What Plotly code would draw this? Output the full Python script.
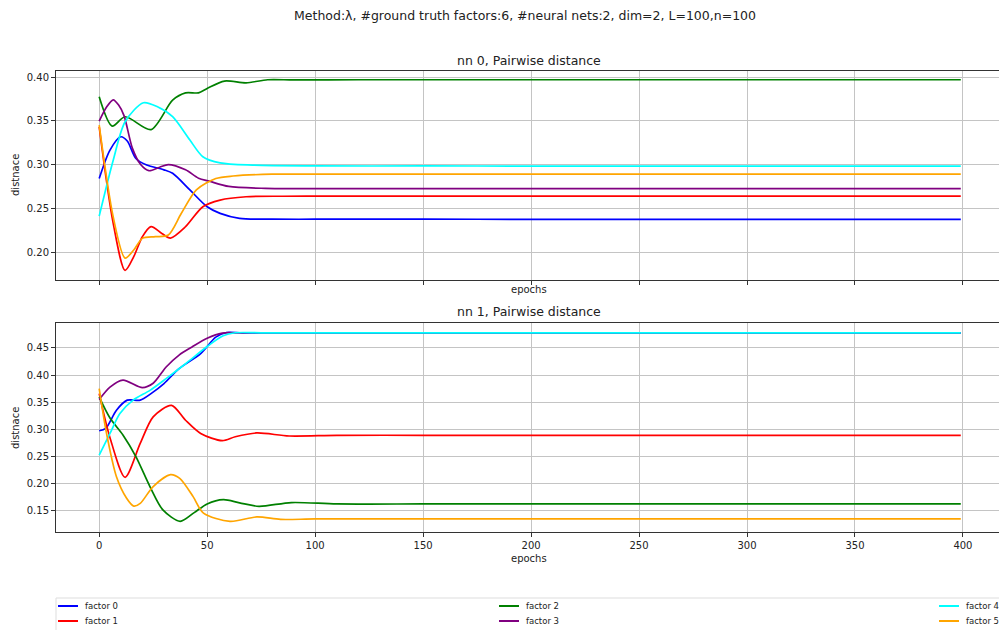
import plotly.graph_objects as go

# ---- data: pairwise distance per factor over training epochs ----
factor_names = ["factor 0", "factor 1", "factor 2", "factor 3", "factor 4", "factor 5"]
factor_colors = ["blue", "red", "green", "purple", "cyan", "orange"]

# nn 0
nn0_f0_epoch = [0, 5, 10, 13, 17, 22, 30, 34, 42, 50, 56, 65, 80, 100, 150, 200, 250, 300, 350, 399]
nn0_f0_dist = [0.284, 0.3166, 0.3318, 0.327, 0.307, 0.2994, 0.294, 0.290, 0.271, 0.2518, 0.2442, 0.2385,
               0.2376, 0.2375, 0.2375, 0.2374, 0.2374, 0.2374, 0.2374, 0.2374]
nn0_f1_epoch = [0, 6.5, 12, 16, 20, 24, 29, 33, 40, 48, 56, 68, 85, 100, 150, 200, 250, 300, 350, 399]
nn0_f1_dist = [0.343, 0.2327, 0.179, 0.1947, 0.2175, 0.229, 0.2213, 0.216, 0.229, 0.2518, 0.2594, 0.2632,
               0.2638, 0.264, 0.264, 0.264, 0.264, 0.264, 0.264, 0.264]
nn0_f2_epoch = [0, 6, 12, 24, 34, 40, 46, 50, 58, 68, 78, 90, 120, 150, 200, 250, 300, 350, 399]
nn0_f2_dist = [0.3775, 0.344, 0.3547, 0.340, 0.3737, 0.382, 0.382, 0.387, 0.3955, 0.3935, 0.397,
               0.3968, 0.397, 0.397, 0.397, 0.397, 0.397, 0.397, 0.397]
nn0_f3_epoch = [0, 3.5, 6.5, 9, 11.5, 15.4, 19.2, 23, 28, 32, 40, 46, 51, 60, 77, 100, 150, 200, 250, 300,
                350, 399]
nn0_f3_dist = [0.3497, 0.366, 0.374, 0.368, 0.356, 0.3185, 0.300, 0.293, 0.297, 0.300, 0.294, 0.2844,
               0.281, 0.275, 0.2728, 0.2725, 0.2725, 0.2725, 0.2725, 0.2725, 0.2725, 0.2725]
nn0_f4_epoch = [0, 6.5, 12, 20.5, 27, 34, 42, 48, 56, 71, 100, 150, 200, 250, 300, 350, 399]
nn0_f4_dist = [0.241, 0.305, 0.349, 0.3707, 0.366, 0.3547, 0.328, 0.309, 0.302, 0.2994, 0.2985, 0.2984,
               0.2983, 0.2983, 0.2983, 0.2983, 0.2983]
nn0_f5_epoch = [0, 6.5, 12, 16, 20, 26, 32, 38, 45, 54, 62, 80, 100, 150, 200, 250, 300, 350, 399]
nn0_f5_dist = [0.345, 0.240, 0.193, 0.2023, 0.2156, 0.2175, 0.2194, 0.244, 0.271, 0.284, 0.2869, 0.289,
               0.289, 0.289, 0.289, 0.289, 0.289, 0.289, 0.289]

# nn 1
nn1_f0_epoch = [0, 3, 8, 13, 19, 24, 30, 37, 47, 54, 59, 66, 80, 100, 150, 200, 250, 300, 350, 399]
nn1_f0_dist = [0.2976, 0.302, 0.3355, 0.354, 0.354, 0.366, 0.3845, 0.412, 0.4396, 0.470, 0.4785, 0.478,
               0.478, 0.478, 0.478, 0.478, 0.478, 0.478, 0.478, 0.478]
nn1_f1_epoch = [0, 5, 12, 19, 25, 33.5, 40, 47, 57, 63, 73, 88, 110, 150, 200, 250, 300, 350, 399]
nn1_f1_dist = [0.366, 0.285, 0.212, 0.2743, 0.3233, 0.3445, 0.317, 0.2927, 0.2794, 0.2866, 0.2936, 0.2880,
               0.2893, 0.2893, 0.2893, 0.2893, 0.2893, 0.2893, 0.2893]
nn1_f2_epoch = [0, 5, 11, 17, 23.5, 29.5, 37.5, 44, 50, 57.5, 65, 74, 89, 110, 150, 200, 250, 300, 350, 399]
nn1_f2_dist = [0.36, 0.321, 0.29, 0.25, 0.195, 0.152, 0.131, 0.147, 0.163, 0.1708, 0.165, 0.1586, 0.1655,
               0.163, 0.1629, 0.1629, 0.1629, 0.1629, 0.1629, 0.1629]
nn1_f3_epoch = [0, 5, 11, 20, 25, 31, 37, 43, 50, 57, 63, 75, 100, 150, 200, 250, 300, 350, 399]
nn1_f3_dist = [0.355, 0.378, 0.391, 0.377, 0.385, 0.415, 0.437, 0.452, 0.468, 0.4775, 0.478, 0.478,
               0.478, 0.478, 0.478, 0.478, 0.478, 0.478, 0.478]
nn1_f4_epoch = [0, 5, 9.6, 15.7, 23.5, 31, 40, 49.7, 57.4, 63, 75, 100, 150, 200, 250, 300, 350, 399]
nn1_f4_dist = [0.253, 0.2927, 0.3294, 0.354, 0.372, 0.3937, 0.421, 0.4518, 0.4725, 0.478, 0.478, 0.478,
               0.478, 0.478, 0.478, 0.478, 0.478, 0.478]
nn1_f5_epoch = [0, 3.4, 8, 12.7, 16, 19, 25, 33, 37.3, 43.5, 48.3, 60.6, 73, 84, 100, 150, 200, 250, 300,
                350, 399]
nn1_f5_dist = [0.375, 0.2927, 0.213, 0.1734, 0.159, 0.164, 0.195, 0.2168, 0.210, 0.1764, 0.146, 0.131, 0.139,
               0.1345, 0.1353, 0.1353, 0.1353, 0.1353, 0.1353, 0.1353, 0.1353]

x_ticks = [0, 50, 100, 150, 200, 250, 300, 350, 400]
y_ticks_nn0 = [0.20, 0.25, 0.30, 0.35, 0.40]
y_ticks_nn1 = [0.15, 0.20, 0.25, 0.30, 0.35, 0.40, 0.45]

nn0_series = [(nn0_f0_epoch, nn0_f0_dist), (nn0_f1_epoch, nn0_f1_dist), (nn0_f2_epoch, nn0_f2_dist),
              (nn0_f3_epoch, nn0_f3_dist), (nn0_f4_epoch, nn0_f4_dist), (nn0_f5_epoch, nn0_f5_dist)]
nn1_series = [(nn1_f0_epoch, nn1_f0_dist), (nn1_f1_epoch, nn1_f1_dist), (nn1_f2_epoch, nn1_f2_dist),
              (nn1_f3_epoch, nn1_f3_dist), (nn1_f4_epoch, nn1_f4_dist), (nn1_f5_epoch, nn1_f5_dist)]

W, H = 999, 630
FONT = "DejaVu Sans"


def px_x(p):
    return p / W


def px_y(p):
    return 1 - p / H


fig = go.Figure()

for i, (ep, d) in enumerate(nn0_series):
    fig.add_trace(go.Scatter(x=ep, y=d, mode="lines", name=factor_names[i],
                             line=dict(color=factor_colors[i], width=1.7, shape="spline", smoothing=0.8),
                             xaxis="x", yaxis="y", showlegend=False))
for i, (ep, d) in enumerate(nn1_series):
    fig.add_trace(go.Scatter(x=ep, y=d, mode="lines", name=factor_names[i],
                             line=dict(color=factor_colors[i], width=1.7, shape="spline", smoothing=0.8),
                             xaxis="x2", yaxis="y2", showlegend=False))

axis_common = dict(showgrid=True, gridcolor="#c4c4c4", gridwidth=0.8, zeroline=False,
                   showline=True, linecolor="#333", linewidth=1, ticks="outside",
                   ticklen=4, tickcolor="#333", tickfont=dict(family=FONT, size=10, color="#222"))

x_range = [-20, 416.7]
fig.update_layout(
    width=W, height=H, margin=dict(l=0, r=0, t=0, b=0, pad=0),
    paper_bgcolor="white", plot_bgcolor="white", showlegend=False,
    font=dict(family=FONT, size=10, color="#222"),
    xaxis=dict(domain=[px_x(56), 1], range=x_range, tickvals=x_ticks, showticklabels=False,
               anchor="y", mirror=True, **axis_common),
    yaxis=dict(domain=[px_y(280), px_y(71)], range=[0.168, 0.407], tickvals=y_ticks_nn0,
               tickformat=".2f", anchor="x", **axis_common),
    xaxis2=dict(domain=[px_x(56), 1], range=x_range, tickvals=x_ticks, anchor="y2", mirror=True,
                **axis_common),
    yaxis2=dict(domain=[px_y(532), px_y(323)], range=[0.1113, 0.496], tickvals=y_ticks_nn1,
                tickformat=".2f", anchor="x2", **axis_common),
)

# legend below the panels: three columns of two entries, in a light frame
shapes = [dict(type="rect", xref="paper", yref="paper", x0=px_x(56), x1=1.01, y0=px_y(640), y1=px_y(598),
               line=dict(color="#dddddd", width=1), fillcolor="rgba(0,0,0,0)", layer="below")]
annotations = []
legend_cols_x = [58, 499, 939]
legend_rows_y = [606, 621]
for i, name in enumerate(factor_names):
    cx = legend_cols_x[i // 2]
    ry = legend_rows_y[i % 2]
    shapes.append(dict(type="line", xref="paper", yref="paper", x0=px_x(cx), x1=px_x(cx + 20),
                       y0=px_y(ry), y1=px_y(ry), line=dict(color=factor_colors[i], width=2)))
    annotations.append(dict(text=name, x=px_x(cx + 25), y=px_y(ry), xanchor="left", yanchor="middle",
                            font=dict(size=8.5)))

annotations += [
    dict(text="Method:λ, #ground truth factors:6, #neural nets:2, dim=2, L=100,n=100", x=px_x(525), y=px_y(15),
         font=dict(size=12.5)),
    dict(text="nn 0, Pairwise distance", x=px_x(529), y=px_y(61), font=dict(size=12.5)),
    dict(text="nn 1, Pairwise distance", x=px_x(529), y=px_y(311), font=dict(size=12.5)),
    dict(text="epochs", x=px_x(529), y=px_y(290), font=dict(size=10)),
    dict(text="epochs", x=px_x(529), y=px_y(558), font=dict(size=10)),
    dict(text="distnace", x=px_x(15), y=px_y(175), textangle=-90, font=dict(size=10)),
    dict(text="distnace", x=px_x(15), y=px_y(428), textangle=-90, font=dict(size=10)),
]
for a in annotations:
    a.setdefault("xanchor", "center")
    a.setdefault("yanchor", "middle")
    a.update(xref="paper", yref="paper", showarrow=False)
    a["font"] = dict(family=FONT, color="#222", **a["font"])
fig.update_layout(annotations=annotations, shapes=shapes)

fig.write_html("out.html")
